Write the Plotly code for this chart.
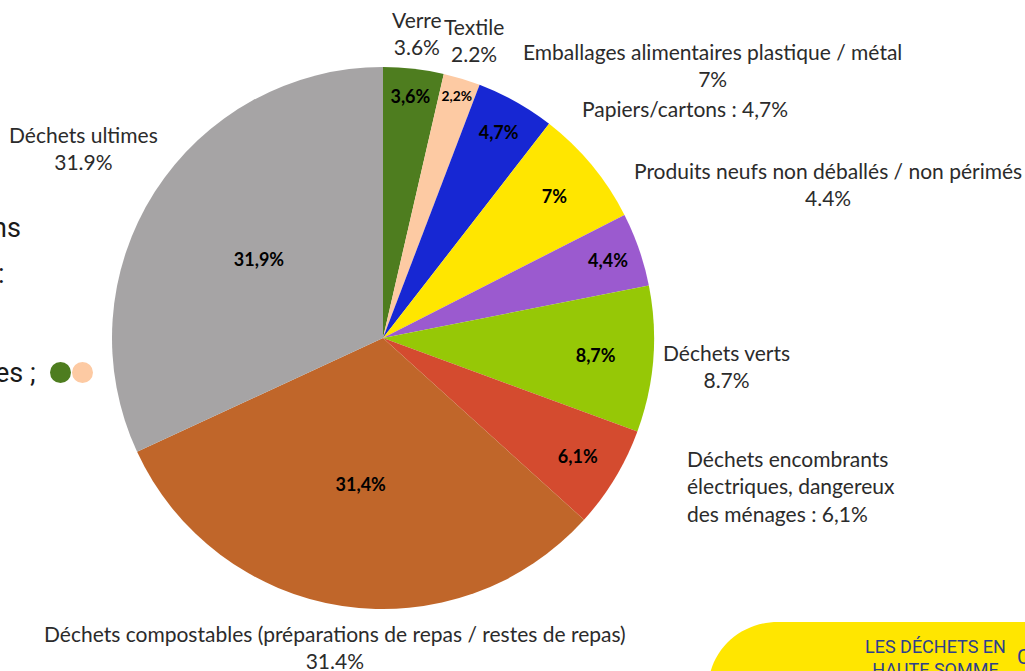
import plotly.graph_objects as go

# ---- data ----
categories = ["Verre", "Textile", "Papiers/cartons", "Emballages alimentaires plastique / métal",
              "Produits neufs non déballés / non périmés", "Déchets verts",
              "Déchets encombrants électriques, dangereux des ménages",
              "Déchets compostables (préparations de repas / restes de repas)",
              "Déchets ultimes"]
values = [3.6, 2.2, 4.7, 7.0, 4.4, 8.7, 6.1, 31.4, 31.9]
inside_labels = ["3,6%", "2,2%", "4,7%", "7%", "4,4%", "8,7%", "6,1%", "31,4%", "31,9%"]
colors = ["#4e7d1f", "#fdcaa3", "#1727d3", "#ffe600", "#9b5acf", "#96c806",
          "#d44b2f", "#c0662a", "#a6a4a5"]

W, H = 1025, 671
OFF = 0  # body margin removed via post_script
cx, cy, r = 383, 338, 271


def px(x, y):
    return (x - OFF) / W, 1 - (y - OFF) / H


fig = go.Figure(go.Pie(
    labels=categories, values=values, text=inside_labels,
    textinfo="text", textposition="inside", insidetextorientation="horizontal",
    texttemplate="<b>%{text}</b>",
    textfont=dict(family="Lato", size=18, color="#000000"),
    marker=dict(colors=colors, line=dict(width=0)),
    sort=False, direction="clockwise", rotation=0, showlegend=False,
    hoverinfo="label+percent",
    domain=dict(x=[(cx - r - OFF) / W, (cx + r - OFF) / W],
                y=[1 - (cy + r - OFF) / H, 1 - (cy - r - OFF) / H]),
))

font = dict(family="Lato", size=21, color="#2b2b2b")

# outside labels (positions in pixels)
outside = [
    (f"{categories[0]}<br>{values[0]}%", 417, 33, "center"),
    (f"{categories[1]}<br>{values[1]}%", 474, 40, "center"),
    (f"{categories[3]}<br>{values[3]:g}%", 712, 65, "center"),
    (f"{categories[2]} : {str(values[2]).replace('.', ',')}%", 685, 109, "center"),
    (f"{categories[4]}<br>{values[4]}%", 828, 184, "center"),
    (f"{categories[5]}<br>{values[5]}%", 726, 366, "center"),
    ("Déchets encombrants<br>électriques, dangereux<br>des ménages : " + str(values[6]).replace('.', ',') + "%", 685, 486, "left"),
    (f"{categories[8]}<br>{values[8]}%", 83, 148, "center"),
    (f"{categories[7]}<br>{values[7]}%", 335, 647, "center"),
]
for txt, x, y, al in outside:
    xa, ya = px(x, y)
    fig.add_annotation(x=xa, y=ya, xref="paper", yref="paper", text=txt, showarrow=False,
                       font=font, align=al, xanchor="left" if al == "left" else "center",
                       yanchor="middle")

# background slide fragments (right-anchored, partly cut at the left edge)
for txt, x, y in [("ns", 23, 228), (":", 7, 274), ("es ;", 38, 373)]:
    xa, ya = px(x, y)
    fig.add_annotation(x=xa, y=ya, xref="paper", yref="paper", text=txt, showarrow=False,
                       font=dict(family="Roboto", size=27, color="#1a1a1a"),
                       xanchor="right", yanchor="middle")
for x0, c in [(50, "#4e7d1f"), (72, "#fdcaa3")]:
    a0, b0 = px(x0, 383)
    a1, b1 = px(x0 + 21, 362)
    fig.add_shape(type="circle", xref="paper", yref="paper",
                  x0=a0, x1=a1, y0=b0, y1=b1,
                  fillcolor=c, line=dict(width=0), layer="above")

# yellow rounded panel bottom-right
p0 = px(708, 700)
p1 = px(708, 690)
c1 = px(708, 652)
c2 = px(739, 622)
p2 = px(778, 622)
p3 = px(1040, 622)
p4 = px(1040, 700)
fig.add_shape(type="path", xref="paper", yref="paper",
              path=(f"M {p0[0]} {p0[1]} L {p1[0]} {p1[1]} C {c1[0]} {c1[1]} {c2[0]} {c2[1]} {p2[0]} {p2[1]} "
                    f"L {p3[0]} {p3[1]} L {p4[0]} {p4[1]} Z"),
              fillcolor="#ffe600", line=dict(width=0), layer="below")
xa, ya = px(935, 658)
fig.add_annotation(x=xa, y=ya, xref="paper", yref="paper", text="LES DÉCHETS EN<br>HAUTE SOMME",
                   showarrow=False, font=dict(family="Roboto", size=18, color="#2d3f8e"),
                   xanchor="center", yanchor="middle", align="center")
xa, ya = px(1015, 657)
fig.add_annotation(x=xa, y=ya, xref="paper", yref="paper", text="C",
                   showarrow=False, font=dict(family="Roboto", size=20, color="#2d3f8e"),
                   xanchor="left", yanchor="middle")

fig.update_layout(width=W, height=H, margin=dict(l=0, r=0, t=0, b=0),
                  paper_bgcolor="white", plot_bgcolor="white")
fig.write_html("out.html", config={"displayModeBar": False},
               post_script="document.body.style.margin='0';document.body.style.overflow='hidden';")
